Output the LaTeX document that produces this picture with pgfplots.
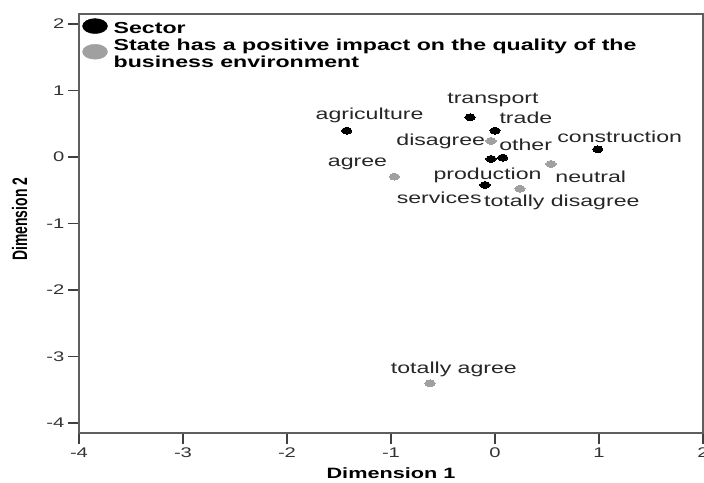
\documentclass[border=0pt]{standalone}
\usepackage{fontspec}
\setmainfont{Liberation Sans}
\usepackage{graphicx}
\usepackage{pgfplots}
\usepackage{pgfplotstable}
\pgfplotsset{compat=1.18}

\definecolor{ptgray}{RGB}{160,160,160}
\definecolor{framegray}{RGB}{95,95,95}

% sector categories: coordinates, label, label offset (bp)
\pgfplotstableread{
x y label dx dy
-1.426 0.395 agriculture 23 15
-0.240 0.597 transport 23 17
0.000 0.395 trade 31 13
0.988 0.116 construction 22 13
-0.038 -0.030 production -3.5 -16
0.074 -0.011 other 23 13
-0.096 -0.421 services -46 -13
}\sector

% "state has a positive impact" categories
\pgfplotstableread{
x y label dx dy
-0.038 0.241 disagree -50.5 0
-0.968 -0.296 agree -37 13
0.538 -0.105 neutral 40 -13
0.240 -0.477 {totally disagree} 42 -14
-0.625 -3.403 {totally agree} 24 14
}\state

\newcommand{\wide}[1]{\scalebox{1.45}[1]{#1}}

\pgfplotsset{
  catpoint/.style={
    color=#1, only marks, mark=*, mark size=3.4bp,
    mark options={xscale=1.5, fill=#1, draw=#1, line width=0pt},
    nodes near coords={\wide{\pgfplotspointmeta}},
    point meta=explicit symbolic,
    visualization depends on={\thisrow{dx} \as \dx},
    visualization depends on={\thisrow{dy} \as \dy},
    every node near coord/.style={anchor=center, xshift=\dx pt, yshift=\dy pt,
      font=\fontsize{16}{16}\selectfont, text=black!85, inner sep=0pt},
    legend image code/.code={\fill[#1] (12.5bp,0.3em) ellipse [x radius=12.5bp, y radius=7.5bp];},
  },
}

\begin{document}
\begin{tikzpicture}
\begin{axis}[
  at={(0,0)}, anchor=south west,
  width=624bp, height=419bp, scale only axis,
  xmin=-4, xmax=2, ymin=-4.15, ymax=2.15,
  xtick={-4,...,2}, ytick={-4,...,2},
  xtick pos=bottom, ytick pos=left,
  tick align=outside, major tick length=11bp,
  tick style={draw=black!75, line width=1.2bp},
  axis line style={draw=framegray, line width=1.2bp},
  ticklabel style={font=\fontsize{14}{14}\selectfont, text=black!80},
  xticklabel={\wide{\pgfmathprintnumber[assume math mode=true]{\tick}}},
  yticklabel={\wide{\pgfmathprintnumber[assume math mode=true]{\tick}}},
  xlabel={\wide{\bfseries Dimension 1}},
  ylabel={\scalebox{1}[1.5]{\bfseries Dimension 2}},
  xlabel style={font=\fontsize{15}{15}\selectfont, at={(axis description cs:0.5,-0.097)}, anchor=center},
  ylabel style={font=\fontsize{14}{14}\selectfont, at={(axis description cs:-0.095,0.51)}, anchor=center},
  legend style={at={(axis description cs:0.005,0.99)}, anchor=north west,
    draw=none, fill=none, inner sep=0pt, row sep=3bp,
    font=\bfseries\fontsize{16}{17}\selectfont,
    nodes={inner sep=0pt},
    /tikz/every odd column/.append style={column sep=6bp}},
  legend cell align=left,
]
\addplot[catpoint=black] table[x=x, y=y, meta=label] {\sector};
\addlegendentry{\wide{Sector}}
\addplot[catpoint=ptgray,
  legend image code/.code={\fill[ptgray] (12.5bp,0.3em-5bp) ellipse [x radius=12.5bp, y radius=7.5bp];}]
  table[x=x, y=y, meta=label] {\state};
\addlegendentry{\wide{\begin{tabular}{@{}l@{}}State has a positive impact on the quality of the\\business environment\end{tabular}}}
\end{axis}
\pgfresetboundingbox
\path[use as bounding box] (-79bp,-50bp) rectangle (625bp,433bp);
\end{tikzpicture}
\end{document}
